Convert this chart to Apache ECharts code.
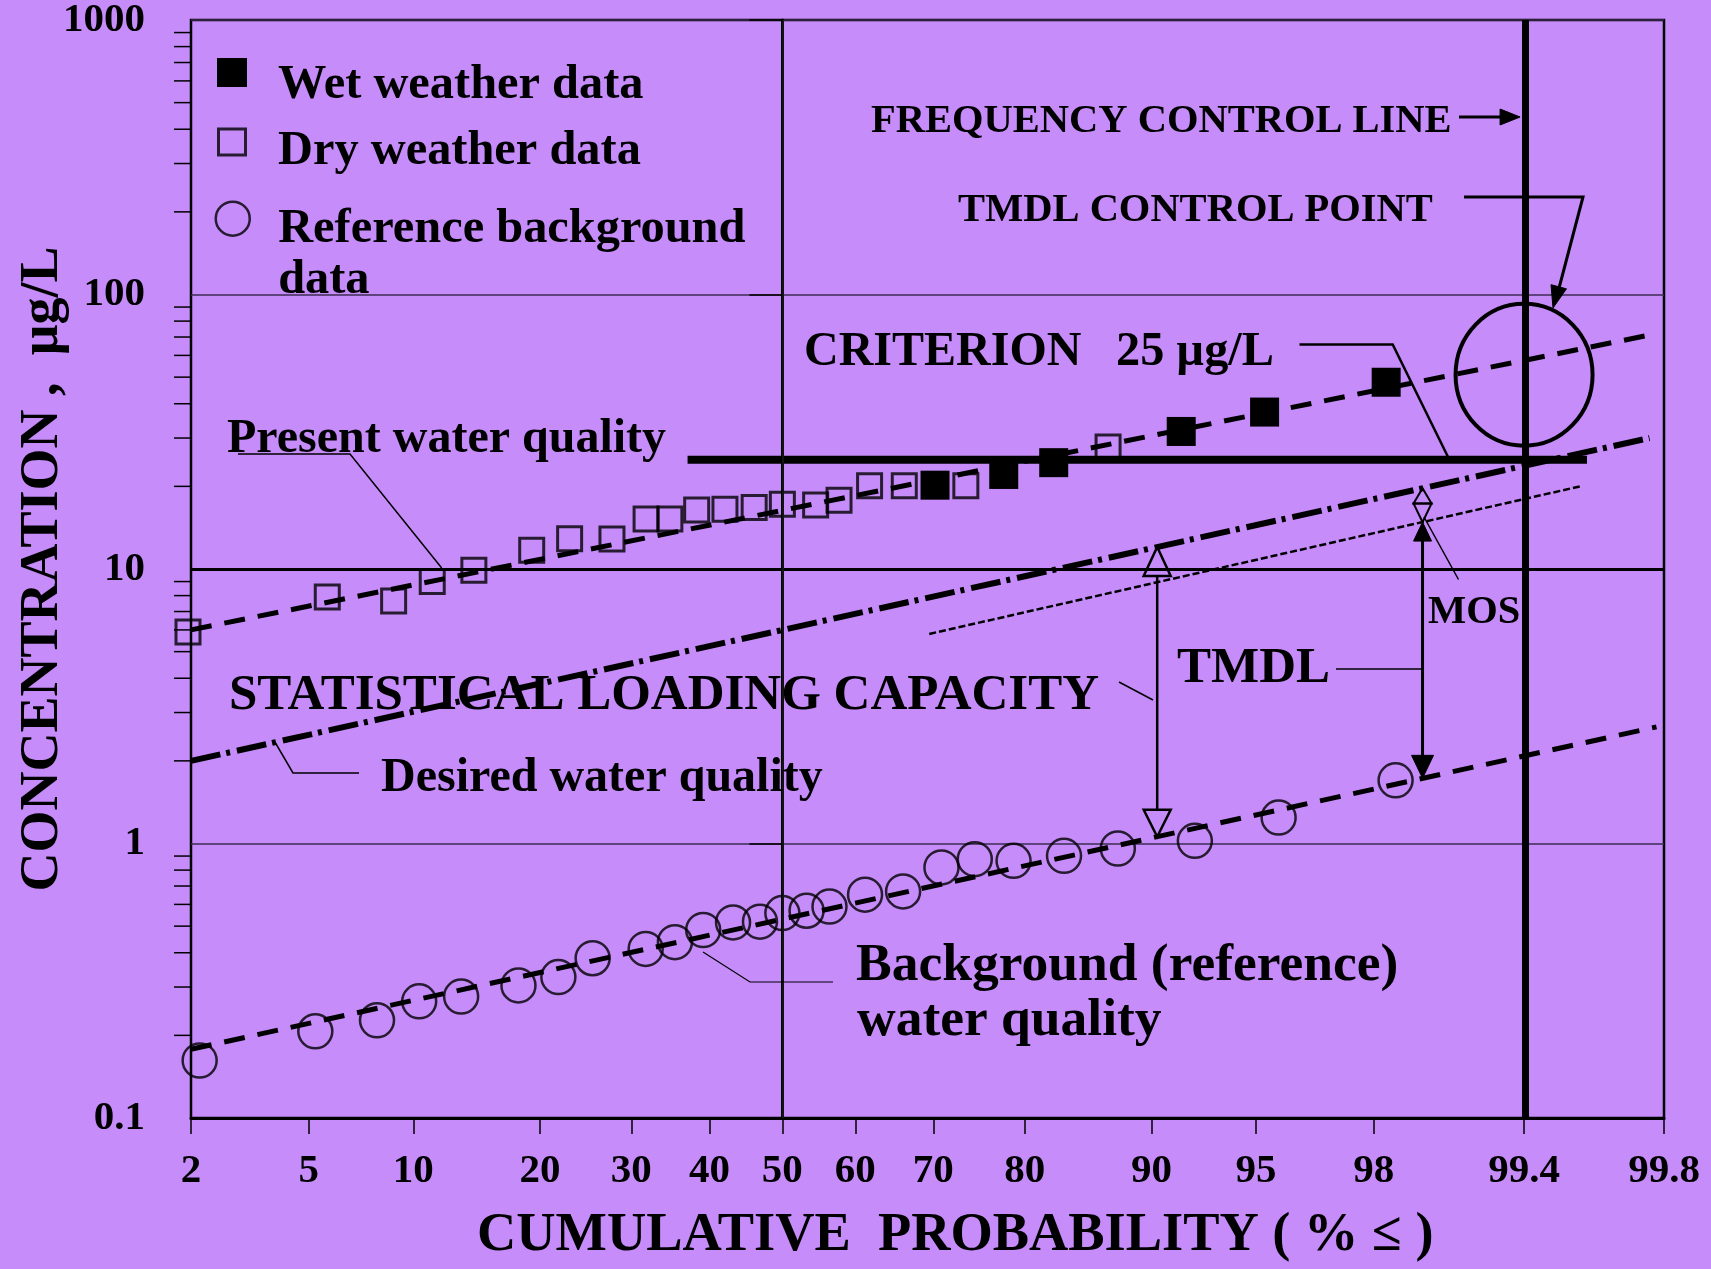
<!DOCTYPE html>
<html>
<head>
<meta charset="utf-8">
<script src="https://cdn.jsdelivr.net/npm/echarts@6/dist/echarts.min.js"></script>
<style>
  html, body { margin: 0; padding: 0; background: #c68cfa; }
  #chart { width: 1711px; height: 1269px; }
</style>
</head>
<body>
<div id="chart"></div>
<script>
// ---- Data: cumulative probability (%) and concentration (µg/L) ----
const wetProb = [70.2, 77.9, 82.7, 91.7, 95.3, 98.2];
const wetConc = [20.2, 22.1, 24.4, 31.7, 37.3, 47.9];

const dryProb = [1.95, 5.7, 8.85, 11.2, 14.2, 19.2, 23.0, 27.7, 31.8, 34.8, 38.3, 42.1, 46.1, 50.0, 54.6, 57.8, 61.9, 66.4, 73.8, 87.1];
const dryConc = [5.9, 7.9, 7.65, 9.0, 9.9, 11.7, 12.9, 12.85, 15.2, 15.2, 16.4, 16.5, 16.75, 17.2, 17.1, 17.8, 20.1, 20.1, 20.1, 27.8];

const bgProb = [2.15, 5.24, 7.96, 10.36, 13.23, 17.97, 21.83, 25.5, 31.75, 35.45, 39.17, 43.2, 46.9, 50.0, 53.35, 56.5, 61.3, 66.25, 70.97, 74.8, 78.9, 83.6, 87.8, 92.4, 95.76, 98.34];
const bgConc = [0.162, 0.207, 0.227, 0.266, 0.277, 0.304, 0.326, 0.382, 0.413, 0.437, 0.484, 0.516, 0.519, 0.558, 0.569, 0.589, 0.651, 0.669, 0.818, 0.877, 0.865, 0.902, 0.959, 1.023, 1.243, 1.699];

// Fitted distribution lines: [probability %, concentration] at each end
const presentLine    = [[2, 6.0],   [99.88, 72]];
const desiredLine    = [[2, 2.0],   [99.87, 30]];
const mosLine        = [[69.5, 5.8], [99.72, 20]];
const backgroundLine = [[2, 0.178], [99.88, 2.66]];

const criterionValue = 25;
const criterionProb = [37.1, 99.74];

// Probability axis: where each tick sits, and its printed text
const probTicks      = [2, 5, 10, 20, 30, 40, 50, 60, 70, 80, 90, 95, 98, 99.5, 99.89];
const probTickLabels = ['2', '5', '10', '20', '30', '40', '50', '60', '70', '80', '90', '95', '98', '99.4', '99.8'];

const yMinorTicks = [0.2, 0.3, 0.4, 0.5, 0.6, 0.7, 0.8, 0.9,
                     2, 3, 4, 5, 6, 7, 8, 9,
                     20, 30, 40, 50, 60, 70, 80, 90,
                     200, 300, 400, 500, 600, 700, 800, 900];

const controlProb = probTicks[13];          // frequency control line
const controlPointConc = 51;                 // TMDL control point
const tmdlArrowProb = 90.35;
const mosArrowProb = 98.69;

// ---- Normal probability scale (inverse normal CDF, Acklam) ----
function probit(p) {
  const a = [-3.969683028665376e+01, 2.209460984245205e+02, -2.759285104469687e+02, 1.383577518672690e+02, -3.066479806614716e+01, 2.506628277459239e+00];
  const b = [-5.447609879822406e+01, 1.615858368580409e+02, -1.556989798598866e+02, 6.680131188771972e+01, -1.328068155288572e+01];
  const c = [-7.784894002430293e-03, -3.223964580411365e-01, -2.400758277161838e+00, -2.549732539343734e+00, 4.374664141464968e+00, 2.938163982698783e+00];
  const d = [7.784695709041462e-03, 3.224671290700398e-01, 2.445134137142996e+00, 3.754408661907416e+00];
  const pl = 0.02425, ph = 1 - pl;
  let q, r;
  if (p < pl) {
    q = Math.sqrt(-2 * Math.log(p));
    return (((((c[0]*q+c[1])*q+c[2])*q+c[3])*q+c[4])*q+c[5]) / ((((d[0]*q+d[1])*q+d[2])*q+d[3])*q+1);
  }
  if (p <= ph) {
    q = p - 0.5; r = q * q;
    return (((((a[0]*r+a[1])*r+a[2])*r+a[3])*r+a[4])*r+a[5])*q / (((((b[0]*r+b[1])*r+b[2])*r+b[3])*r+b[4])*r+1);
  }
  q = Math.sqrt(-2 * Math.log(1 - p));
  return -(((((c[0]*q+c[1])*q+c[2])*q+c[3])*q+c[4])*q+c[5]) / ((((d[0]*q+d[1])*q+d[2])*q+d[3])*q+1);
}
const zOf = p => probit(p / 100);
const pairs = (ps, cs) => ps.map((p, i) => [zOf(p), cs[i]]);
const lineData = line => line.map(([p, c]) => [zOf(p), c]);
// concentration on a fitted line at a given probability (straight in z / log c)
function lineAt(line, p) {
  const [[p1, c1], [p2, c2]] = line;
  const z1 = zOf(p1), z2 = zOf(p2), z = zOf(p);
  const t = (z - z1) / (z2 - z1);
  return Math.pow(10, Math.log10(c1) + t * (Math.log10(c2) - Math.log10(c1)));
}

const tickZ = probTicks.map(zOf);
const zMin = tickZ[0], zMax = tickZ[tickZ.length - 1];

const FONT = '"Liberation Serif", "Times New Roman", serif';
const BG = '#c68cfa';
const INK = '#000';

const chart = echarts.init(document.getElementById('chart'), null, { renderer: 'canvas' });

// legend text: each line is a rich token whose top padding drops it below the icon's centre
const legendRich = (fs, lh, padTop, padLeft) => ({
  fontFamily: FONT, fontWeight: 'bold', fontSize: fs, lineHeight: lh, color: INK,
  rich: { t: { fontFamily: FONT, fontWeight: 'bold', fontSize: fs, lineHeight: lh, color: INK, padding: [padTop, 0, 0, padLeft] } }
});

const option = {
  backgroundColor: BG,
  animation: false,
  grid: { left: 191, right: 47, top: 20, bottom: 151, show: true, borderColor: INK, borderWidth: 2.5, backgroundColor: 'transparent', outerBoundsMode: 'none' },
  legend: [
    {
      selectedMode: false, orient: 'vertical', left: 217, top: 35.5, padding: 0,
      itemWidth: 30, itemHeight: 29,
      data: [{ name: 'Wet weather data', icon: 'rect', itemStyle: { color: INK, borderWidth: 0 } }],
      formatter: n => '{t|' + n + '}',
      textStyle: legendRich(48.4, 48, 26, 26)
    },
    {
      selectedMode: false, orient: 'vertical', left: 217, top: 108.5, padding: 0,
      itemWidth: 27, itemHeight: 26,
      data: [{ name: 'Dry weather data', icon: 'rect', itemStyle: { color: 'rgba(0,0,0,0)', borderColor: INK, borderWidth: 3 } }],
      formatter: n => '{t|' + n + '}',
      textStyle: legendRich(48.4, 48, 19, 27.5)
    },
    {
      selectedMode: false, orient: 'vertical', left: 214.5, top: 132.9, padding: 0,
      itemWidth: 34, itemHeight: 34,
      data: [{ name: 'Reference background data', icon: 'circle', itemStyle: { color: 'rgba(0,0,0,0)', borderColor: INK, borderWidth: 2.5 } }],
      formatter: () => '{t|Reference background}\n{t|data}',
      textStyle: legendRich(48.4, 50.6, 73, 23.4)
    }
  ],
  xAxis: {
    type: 'value', min: zMin, max: zMax,
    name: 'CUMULATIVE  PROBABILITY ( % \u2264 )',
    nameLocation: 'middle', nameGap: 90.5, nameMoveOverlap: false,
    nameTextStyle: { fontFamily: FONT, fontWeight: 'bold', fontSize: 54.4, color: INK, padding: [0, 0, 0, 55.6] },
    axisLine: { show: true, lineStyle: { color: INK, width: 3 } },
    axisTick: { show: true, inside: false, length: 16, customValues: tickZ, lineStyle: { color: INK, width: 1.5 } },
    axisLabel: {
      show: true, margin: 33, customValues: tickZ,
      fontFamily: FONT, fontWeight: 'bold', fontSize: 41, color: INK,
      formatter: v => {
        const i = tickZ.findIndex(t => Math.abs(t - v) < 1e-6);
        return i >= 0 ? probTickLabels[i] : '';
      }
    },
    splitLine: { show: false }
  },
  yAxis: {
    type: 'log', logBase: 10, min: 0.1, max: 1000, splitNumber: 4,
    name: 'CONCENTRATION ,  \u00b5g/L',
    nameLocation: 'middle', nameGap: 120.5, nameMoveOverlap: false,
    nameTextStyle: { fontFamily: FONT, fontWeight: 'bold', fontSize: 54, color: INK },
    axisLine: { show: true, lineStyle: { color: INK, width: 3 } },
    axisTick: { show: true, inside: false, length: 33, lineStyle: { color: INK, width: 1.5 } },
    axisLabel: {
      margin: 46, fontFamily: FONT, fontWeight: 'bold', fontSize: 41, color: INK,
      formatter: v => String(+(+v).toPrecision(3))
    },
    splitLine: { show: true, lineStyle: { color: '#3b2b52', width: 1.5 } },
    minorTick: { show: false }
  },
  series: [
    {
      // reference grid lines: bold 10 µg/L line and the 50 % line
      type: 'line', name: 'guides', data: [], z: 1, silent: true,
      markLine: {
        silent: true, symbol: ['none', 'none'], label: { show: false }, animation: false,
        data: [
          { yAxis: 10, lineStyle: { color: INK, width: 3, type: 'solid' } },
          { xAxis: 0, lineStyle: { color: '#1a1a1a', width: 1.5, type: 'solid' } }
        ]
      }
    },
    {
      // log minor ticks on the concentration axis
      type: 'custom', name: 'minor ticks', silent: true, clip: false, z: 1,
      data: yMinorTicks.map(v => [zMin, v]),
      renderItem: (params, api) => {
        const pt = api.coord([api.value(0), api.value(1)]);
        return { type: 'line', shape: { x1: pt[0] - 17, y1: pt[1], x2: pt[0], y2: pt[1] }, style: { stroke: INK, lineWidth: 1.5 } };
      }
    },
    {
      type: 'line', name: 'Present water quality', data: lineData(presentLine), z: 2, silent: true,
      showSymbol: false, symbol: 'none', lineStyle: { color: INK, width: 5, type: [21, 13] }
    },
    {
      type: 'line', name: 'Desired water quality', data: lineData(desiredLine), z: 2, silent: true,
      showSymbol: false, symbol: 'none', lineStyle: { color: INK, width: 6, type: [30, 6, 4, 7] }
    },
    {
      type: 'line', name: 'Loading capacity less MOS', data: lineData(mosLine), z: 2, silent: true,
      showSymbol: false, symbol: 'none', lineStyle: { color: INK, width: 2.5, type: [7, 3] }
    },
    {
      type: 'line', name: 'Background water quality', data: lineData(backgroundLine), z: 2, silent: true,
      showSymbol: false, symbol: 'none', lineStyle: { color: INK, width: 5, type: [21, 13] }
    },
    {
      type: 'line', name: 'Criterion', data: criterionProb.map(p => [zOf(p), criterionValue]), z: 3, silent: true,
      showSymbol: false, symbol: 'none', lineStyle: { color: INK, width: 8, type: 'solid' }
    },
    {
      type: 'scatter', name: 'Dry weather data', data: pairs(dryProb, dryConc), z: 4, clip: false, silent: true,
      symbol: 'rect', symbolSize: 24,
      itemStyle: { color: 'rgba(0,0,0,0)', borderColor: INK, borderWidth: 3 }
    },
    {
      type: 'scatter', name: 'Wet weather data', data: pairs(wetProb, wetConc), z: 4, clip: false, silent: true,
      symbol: 'rect', symbolSize: 29,
      itemStyle: { color: INK, borderWidth: 0, opacity: 1 }
    },
    {
      type: 'scatter', name: 'Reference background data', data: pairs(bgProb, bgConc), z: 4, clip: false, silent: true,
      symbol: 'circle', symbolSize: 34,
      itemStyle: { color: 'rgba(0,0,0,0)', borderColor: INK, borderWidth: 2.5 }
    },
    {
      // frequency control line
      type: 'line', name: 'control', data: [], z: 5, silent: true,
      markLine: {
        silent: true, symbol: ['none', 'none'], label: { show: false }, animation: false,
        data: [{ xAxis: zOf(controlProb), lineStyle: { color: INK, width: 7, type: 'solid' } }]
      }
    }
  ]
};

chart.setOption(option);

// ---- Annotations ----
const toPx = (p, c) => chart.convertToPixel({ xAxisIndex: 0, yAxisIndex: 0 }, [zOf(p), c]);

function text(str, x, y, fs) {
  return {
    type: 'text', x: x, y: y + 3.5, silent: true, z: 10,
    style: {
      text: str, font: 'bold ' + fs + 'px ' + FONT, fill: INK,
      align: 'left', verticalAlign: 'middle', textAlign: 'left', textVerticalAlign: 'middle'
    }
  };
}
function poly(points, w) {
  return { type: 'polyline', silent: true, z: 10, shape: { points: points }, style: { stroke: INK, lineWidth: w, fill: null } };
}
function head(tip, from, len, halfW, filled, w) {
  const dx = tip[0] - from[0], dy = tip[1] - from[1];
  const L = Math.hypot(dx, dy), ux = dx / L, uy = dy / L;
  const bx = tip[0] - ux * len, by = tip[1] - uy * len;
  const nx = -uy, ny = ux;
  return {
    type: 'polygon', silent: true, z: 11,
    shape: { points: [tip, [bx + nx * halfW, by + ny * halfW], [bx - nx * halfW, by - ny * halfW]] },
    style: filled ? { fill: INK, stroke: INK, lineWidth: 1 } : { fill: 'none', stroke: INK, lineWidth: w || 2.5 }
  };
}

const g = [];

// texts
g.push(text('FREQUENCY CONTROL LINE', 871, 118.5, 40.5));
g.push(text('TMDL CONTROL POINT', 958, 207.5, 40.5));
g.push(text('CRITERION', 804, 349, 48));
g.push(text('25 \u00b5g/L', 1116, 349, 48.3));
g.push(text('Present water quality', 227, 436.5, 48));
g.push(text('STATISTICAL LOADING CAPACITY', 229, 692, 51));
g.push(text('Desired water quality', 381, 775, 48));
g.push(text('Background (reference)', 856, 962.5, 53.5));
g.push(text('water quality', 857, 1017.5, 53.5));
g.push(text('TMDL', 1177, 665, 51));
g.push(text('MOS', 1428, 609, 40.5));

// leader lines
g.push(poly([[238, 454], [350, 454], [441.7, 568]], 1.5));
g.push(poly([[1119, 682], [1153, 700]], 1.5));
g.push(poly([[359, 773], [293, 773], [275.5, 743]], 1.5));
g.push(poly([[833, 982], [750, 982], [703, 952]], 1.2));
g.push(poly([[1336, 669], [1422, 669]], 1.5));
g.push(poly([[1458.5, 579.5], [1424, 517]], 1.5));
g.push(poly([[1299.5, 344.5], [1392.7, 344.5], [1450, 461]], 2.5));

// frequency control line pointer
const ctrlX = toPx(controlProb, 1)[0];
g.push(poly([[1459, 117], [ctrlX - 20, 117]], 3));
g.push(head([ctrlX - 4, 117], [1459, 117], 20, 8, true));

// TMDL control point
const cp = toPx(controlProb, controlPointConc);
g.push({ type: 'ellipse', silent: true, z: 11, shape: { cx: cp[0], cy: cp[1], rx: 68.5, ry: 71 }, style: { fill: 'none', stroke: INK, lineWidth: 4 } });
g.push(poly([[1464, 197], [1583, 197], [1558, 292]], 3));
g.push(head([1553, 308], [1583, 197], 22, 8, true));

// TMDL arrow: background line up to desired water quality
{
  const x = toPx(tmdlArrowProb, 1)[0];
  const yTop = toPx(tmdlArrowProb, lineAt(desiredLine, tmdlArrowProb))[1];
  const yBot = toPx(tmdlArrowProb, lineAt(backgroundLine, tmdlArrowProb))[1];
  g.push(head([x, yTop], [x, yBot], 29, 13.5, false, 2.5));
  g.push(head([x, yBot], [x, yTop], 27, 13.5, false, 2.5));
  g.push(poly([[x, yTop + 29], [x, yBot - 27]], 2.5));
}

// TMDL and MOS arrows near the control point
{
  const x = toPx(mosArrowProb, 1)[0];
  const yDes = toPx(mosArrowProb, lineAt(desiredLine, mosArrowProb))[1];
  const yDot = toPx(mosArrowProb, lineAt(mosLine, mosArrowProb))[1];
  const yBg  = toPx(mosArrowProb, lineAt(backgroundLine, mosArrowProb))[1];
  const yMid = yDes + (yDot - yDes) * 0.45;
  g.push(poly([[x, yDot + 10], [x, yBg - 12]], 3));
  g.push(head([x, yDot], [x, yBg], 19, 9, true));
  g.push(head([x, yBg], [x, yDot], 23, 11, true));
  g.push(head([x, yDes], [x, yBg], yMid - yDes, 9, false, 2));
  g.push(head([x, yDot], [x, yDes], yDot - yMid, 9, false, 2));
}

chart.setOption({ graphic: { elements: g } });
</script>
</body>
</html>
